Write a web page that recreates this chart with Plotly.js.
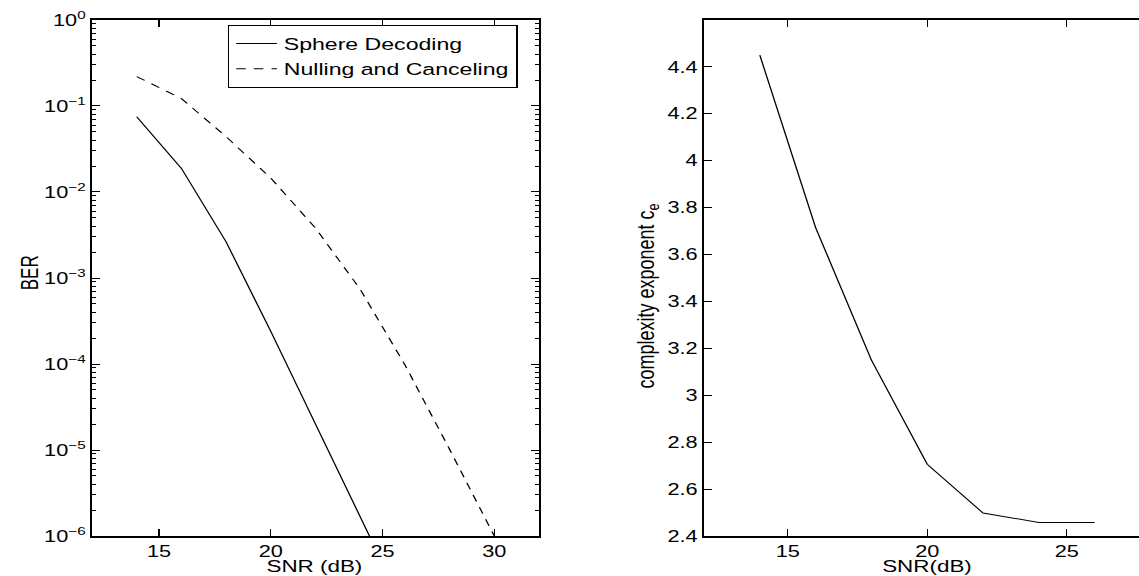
<!DOCTYPE html>
<html>
<head>
<meta charset="utf-8">
<script src="https://cdn.plot.ly/plotly-3.0.1.min.js"></script>
<style>
html,body{margin:0;padding:0;background:#fff;}
#wrap{width:1139px;height:576px;overflow:hidden;position:relative;}
#plot{width:838px;height:576px;transform:scaleX(1.35919);transform-origin:0 0;}
</style>
</head>
<body>
<div id="wrap"><div id="plot"></div></div>
<script>
// ---- data ----
const snrSphere = [14, 16, 18, 20, 22, 24, 26];
const berSphere = [0.075, 0.0188, 2.63e-3, 2.4e-4, 2.0e-5, 1.7e-6, 1.4e-7];
const snrNull = [14, 16, 18, 20, 22, 24, 26, 28, 30];
const berNull = [0.22, 0.122, 0.044, 0.0145, 3.8e-3, 7.4e-4, 9.8e-5, 1.02e-5, 1.0e-6];
const snrExp = [14, 16, 18, 20, 22, 24, 26];
const cExp = [4.45, 3.715, 3.15, 2.706, 2.498, 2.458, 2.458];

const berTickVals = [1e-6, 1e-5, 1e-4, 1e-3, 1e-2, 1e-1, 1];
const berTickText = ['10<sup>−6</sup>', '10<sup>−5</sup>', '10<sup>−4</sup>', '10<sup>−3</sup>',
                     '10<sup>−2</sup>', '10<sup>−1</sup>', '10<sup>0</sup>'];
const snrTicks1 = [15, 20, 25, 30];
const snrTicks2 = [15, 20, 25];
const cTickVals = [2.4, 2.6, 2.8, 3, 3.2, 3.4, 3.6, 3.8, 4, 4.2, 4.4];
const cTickText = ['2.4', '2.6', '2.8', '3', '3.2', '3.4', '3.6', '3.8', '4', '4.2', '4.4'];

const FONT = 'Liberation Sans, Arial, Helvetica, sans-serif';
const tickFnt = {family: FONT, size: 16, color: '#000'};
const fnt = {family: FONT, size: 16, color: '#000'};

const traces = [
  {x: snrSphere, y: berSphere, type: 'scatter', mode: 'lines', name: 'Sphere Decoding',
   line: {color: '#000', width: 1}, xaxis: 'x', yaxis: 'y'},
  {x: snrNull, y: berNull, type: 'scatter', mode: 'lines', name: 'Nulling and Canceling',
   line: {color: '#000', width: 1, dash: '7px,6px'}, xaxis: 'x', yaxis: 'y'},
  {x: snrExp, y: cExp, type: 'scatter', mode: 'lines', name: 'complexity', showlegend: false,
   line: {color: '#000', width: 1}, xaxis: 'x2', yaxis: 'y2'}
];

const axBase = {
  showline: true, linecolor: '#000', linewidth: 1.5, showgrid: false, zeroline: false,
  ticks: 'inside', tickcolor: '#000', tickwidth: 1, tickfont: tickFnt, automargin: false
};

const yDom = [0.0694, 0.9653];

const layout = {
  width: 838, height: 576,
  margin: {l: 0, r: 0, t: 0, b: 0},
  paper_bgcolor: '#fff', plot_bgcolor: '#fff',
  font: fnt,
  showlegend: true,
  legend: {x: 0.2002, y: 0.9566, xanchor: 'left', yanchor: 'top',
           bordercolor: '#000', borderwidth: 1, bgcolor: '#fff',
           font: {family: FONT, size: 17, color: '#000'}, tracegroupgap: 0},
  xaxis: Object.assign({}, axBase, {
    domain: [0.0808, 0.4732], range: [12, 32], mirror: 'ticks', ticklen: 7,
    tickmode: 'array', tickvals: snrTicks1
  }),
  yaxis: Object.assign({}, axBase, {
    domain: yDom, type: 'log', range: [-6, 0], mirror: 'ticks', ticklen: 6,
    tickmode: 'array', tickvals: berTickVals, ticktext: berTickText,
    minor: {dtick: 'D1', ticks: 'inside', ticklen: 3, tickcolor: '#000', tickwidth: 1, showgrid: false}
  }),
  xaxis2: Object.assign({}, axBase, {
    domain: [0.6181, 1], range: [12, 27.59], mirror: 'ticks', ticklen: 7,
    tickmode: 'array', tickvals: snrTicks2, anchor: 'y2'
  }),
  yaxis2: Object.assign({}, axBase, {
    domain: yDom, range: [2.4, 4.6], mirror: false, ticklen: 6, anchor: 'x2',
    tickmode: 'array', tickvals: cTickVals, ticktext: cTickText
  }),
  annotations: [
    {text: 'SNR (dB)', xref: 'paper', yref: 'paper', x: 0.2766, y: 0, xanchor: 'center', yanchor: 'bottom',
     yshift: 0, showarrow: false, font: {family: FONT, size: 16.5, color: '#000'}, borderpad: 0},
    {text: 'SNR(dB)', xref: 'paper', yref: 'paper', x: 0.8136, y: 0, xanchor: 'center', yanchor: 'bottom',
     yshift: 0, showarrow: false, font: {family: FONT, size: 16.5, color: '#000'}, borderpad: 0},
    {text: 'BER', xref: 'paper', yref: 'paper', x: 0.0265, y: 0.526, xanchor: 'center', yanchor: 'middle',
     textangle: -90, showarrow: false, font: {family: FONT, size: 17, color: '#000'}, borderpad: 0},
    {text: 'complexity exponent c<sub>e</sub>', xref: 'paper', yref: 'paper', x: 0.5685, y: 0.486,
     xanchor: 'center', yanchor: 'middle', textangle: -90, showarrow: false,
     font: {family: FONT, size: 18, color: '#000'}, borderpad: 0}
  ]
};

Plotly.newPlot('plot', traces, layout, {staticPlot: true, displayModeBar: false});
</script>
</body>
</html>
